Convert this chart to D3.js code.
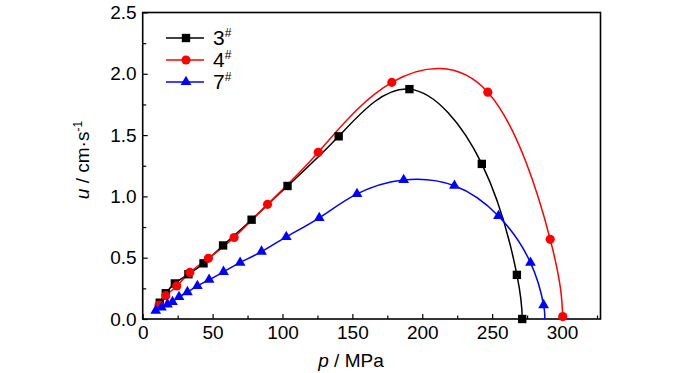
<!DOCTYPE html>
<html>
<head>
<meta charset="utf-8">
<script src="https://cdn.jsdelivr.net/npm/d3@7/dist/d3.min.js"></script>
<style>
  body { margin: 0; background: #fff; }
  text { font-family: "Liberation Sans Narrow", "Arial Narrow", "Liberation Sans", Arial, sans-serif; }
</style>
</head>
<body>
<script>

// data (p in MPa, u in cm/s)
var p3 = [12.2, 16.5, 23, 32.7, 43.5, 57.5, 77.9, 103.6, 140.2, 190.8, 242.6, 267.7, 271.5];
var u3 = [0.133, 0.21, 0.29, 0.365, 0.454, 0.60, 0.81, 1.085, 1.49, 1.875, 1.265, 0.36, 0.0];

var p4 = [11.7, 16.5, 24.4, 33.7, 47, 65.4, 89.3, 125.6, 178.2, 246.9, 291.5, 300.5];
var u4 = [0.114, 0.19, 0.27, 0.38, 0.495, 0.665, 0.935, 1.36, 1.93, 1.85, 0.65, 0.02];

var p7 = [9.3, 13.4, 17.7, 21.3, 26, 32, 39.1, 47.5, 57.8, 69.7, 85, 102.7, 126.3, 153.3, 186.7, 223, 254.5, 277.4, 286.8];
var u7 = [0.068, 0.095, 0.12, 0.14, 0.18, 0.22, 0.27, 0.32, 0.385, 0.46, 0.55, 0.67, 0.825, 1.02, 1.134, 1.087, 0.84, 0.46, 0.114];
var end7 = [287.5, 0];   // line of 7# runs down to the axis, no marker there

var seriesNames = ["3", "4", "7"];
var xTicks = [0, 50, 100, 150, 200, 250, 300];
var yTicks = [0, 0.5, 1.0, 1.5, 2.0, 2.5];

var width = 700, height = 373;
var margin = {top: 12.5, right: 99.5, bottom: 54, left: 142.7};

var svg = d3.select("body").append("svg")
    .attr("width", width)
    .attr("height", height);

var x = d3.scaleLinear().domain([0, 327.5]).range([margin.left, width - margin.right]);
var y = d3.scaleLinear().domain([0, 2.5]).range([height - margin.bottom, margin.top]);

// minor ticks
var xMinor = d3.range(25, 327, 50);
var yMinor = d3.range(0.25, 2.5, 0.5);

svg.append("g")
    .attr("transform", "translate(0," + y(0) + ")")
    .call(d3.axisBottom(x).tickValues(xMinor).tickSize(-3.5).tickFormat(""))
    .call(function(g) { g.select(".domain").remove(); });
svg.append("g")
    .attr("transform", "translate(" + x(0) + ",0)")
    .call(d3.axisLeft(y).tickValues(yMinor).tickSize(-3.5).tickFormat(""))
    .call(function(g) { g.select(".domain").remove(); });

var xAxis = svg.append("g")
    .attr("transform", "translate(0," + y(0) + ")")
    .call(d3.axisBottom(x).tickValues(xTicks).tickSize(-5).tickSizeOuter(0).tickPadding(7)
      .tickFormat(d3.format("d")));
var yAxis = svg.append("g")
    .attr("transform", "translate(" + x(0) + ",0)")
    .call(d3.axisLeft(y).tickValues(yTicks).tickSize(-5).tickSizeOuter(0).tickPadding(6)
      .tickFormat(d3.format(".1f")));

svg.selectAll(".tick line").attr("stroke", "#000").attr("stroke-width", 1.2);
svg.selectAll(".tick text").style("font-size", "19px").attr("fill", "#000");
xAxis.select(".domain").remove();
yAxis.select(".domain").remove();

// frame
svg.append("rect")
    .attr("x", x(0)).attr("y", y(2.5))
    .attr("width", x(327.5) - x(0))
    .attr("height", y(0) - y(2.5))
    .attr("fill", "none")
    .attr("stroke", "#000")
    .attr("stroke-width", 1.6);

// axis titles
var xt = svg.append("text")
    .attr("x", 351).attr("y", 367)
    .attr("text-anchor", "middle")
    .style("font-size", "19px");
xt.append("tspan").style("font-style", "italic").text("p");
xt.append("tspan").text(" / MPa");

var yt = svg.append("text")
    .attr("transform", "translate(89,160) rotate(-90)")
    .attr("text-anchor", "middle")
    .style("font-size", "19px");
yt.append("tspan").style("font-style", "italic").text("u");
yt.append("tspan").text(" / cm\u00b7s");
yt.append("tspan").attr("dy", -7).style("font-size", "12px").text("-1");

var line = d3.line()
    .x(function(d) { return x(d[0]); })
    .y(function(d) { return y(d[1]); })
    .curve(d3.curveNatural);

function zip(a, b) { return a.map(function(v, i) { return [v, b[i]]; }); }

var s3 = zip(p3, u3), s4 = zip(p4, u4), s7 = zip(p7, u7);

var series = [
  {name: seriesNames[0], pts: s3, line: s3, color: "#000000", sym: d3.symbolSquare, size: 70},
  {name: seriesNames[1], pts: s4, line: s4, color: "#ff0000", sym: d3.symbolCircle, size: 66},
  {name: seriesNames[2], pts: s7, line: s7.concat([end7]), color: "#0000ff", sym: d3.symbolTriangle, size: 50}
];

series.forEach(function(s) {
  svg.append("path")
    .datum(s.line)
    .attr("d", line)
    .attr("fill", "none")
    .attr("stroke", s.color)
    .attr("stroke-width", 1.5);
});

series.forEach(function(s) {
  svg.selectAll(null)
    .data(s.pts)
    .enter().append("path")
      .attr("d", d3.symbol().type(s.sym).size(s.size))
      .attr("transform", function(d) { return "translate(" + x(d[0]) + "," + y(d[1]) + ")"; })
      .attr("fill", s.color);
});

// legend
var legend = svg.append("g");
series.forEach(function(s, i) {
  var ly = 38 + i * 22;
  legend.append("line")
    .attr("x1", 166).attr("x2", 204).attr("y1", ly).attr("y2", ly)
    .attr("stroke", s.color).attr("stroke-width", 1.5);
  legend.append("path")
    .attr("d", d3.symbol().type(s.sym).size(s.size))
    .attr("transform", "translate(186," + ly + ")")
    .attr("fill", s.color);
  var t = legend.append("text")
    .attr("x", 213).attr("y", ly + 7)
    .style("font-size", "21px");
  t.append("tspan").text(s.name);
  t.append("tspan").attr("dy", -8).style("font-size", "12px").text("#");
});

</script>
</body>
</html>
